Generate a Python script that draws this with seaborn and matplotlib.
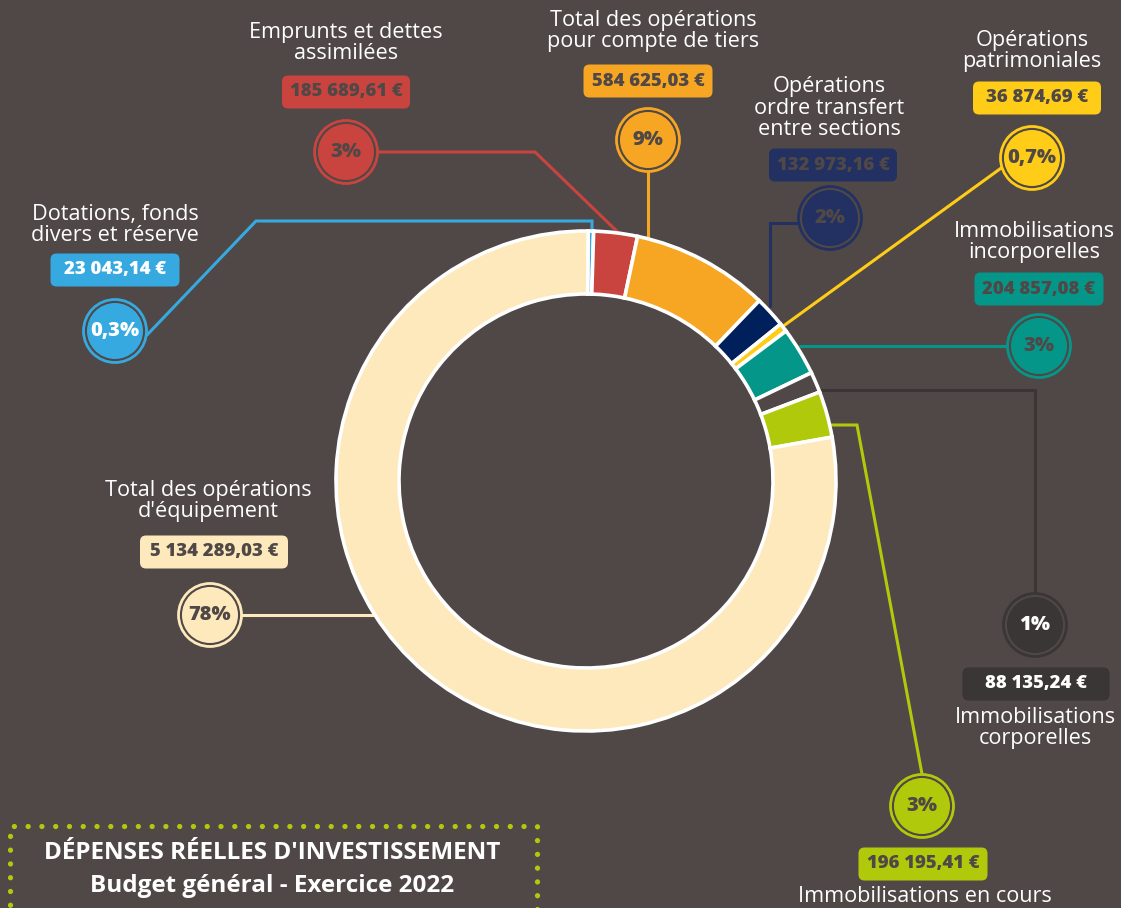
import numpy as np
import matplotlib
matplotlib.use("Agg")
import matplotlib.pyplot as plt
import seaborn as sns
from matplotlib.patches import Circle, FancyBboxPatch, Rectangle

# --- data -------------------------------------------------------------
categories = [
    "Dotations, fonds\ndivers et réserve",
    "Emprunts et dettes\nassimilées",
    "Total des opérations\npour compte de tiers",
    "Opérations\nordre transfert\nentre sections",
    "Opérations\npatrimoniales",
    "Immobilisations\nincorporelles",
    "Immobilisations\ncorporelles",
    "Immobilisations en cours",
    "Total des opérations\nd'équipement",
]
amounts = [23043.14, 185689.61, 584625.03, 132973.16, 36874.69,
           204857.08, 88135.24, 196195.41, 5134289.03]
amount_labels = ["23 043,14 €", "185 689,61 €", "584 625,03 €", "132 973,16 €",
                 "36 874,69 €", "204 857,08 €", "88 135,24 €", "196 195,41 €",
                 "5 134 289,03 €"]
pct_labels = ["0,3%", "3%", "9%", "2%", "0,7%", "3%", "1%", "3%", "78%"]

BG = "#4f4846"
slice_colors = ["#36a9e1", "#c9443e", "#f6a623", "#00205b", "#ffcc18",
                "#05968a", BG, "#b1c90b", "#fee9bd"]
badge_colors = ["#36a9e1", "#c9443e", "#f6a623", "#233162", "#ffcc18",
                "#05968a", "#3a3635", "#b1c90b", "#fee9bd"]
badge_text = ["white", BG, BG, BG, BG, BG, "white", BG, BG]

sns.set_theme(style="white")
plt.rcParams["font.family"] = ["Open Sans", "DejaVu Sans"]

W, H = 1121, 908
fig = plt.figure(figsize=(W / 100, H / 100), dpi=100, facecolor=BG)
ax = fig.add_axes([0, 0, 1, 1])
ax.set_facecolor(BG)


def Y(y):
    return H - y


cx, cy, R, ring = 586, 481, 250, 63
start = 89.5
wedges, _ = ax.pie(amounts, colors=slice_colors, startangle=start,
                   counterclock=False, radius=R, center=(cx, Y(cy)),
                   wedgeprops=dict(width=ring, edgecolor="white", linewidth=2.6))
ax.set_xlim(0, W)
ax.set_ylim(0, H)
ax.set_aspect("equal")
ax.axis("off")

# callout layout (pixel coords): name centre, box (x, y, width), badge centre
layout = [
    dict(name=(115, 225), box=(115, 270, 129), badge=(115, 331)),
    dict(name=(346, 43), box=(346, 92, 128), badge=(346, 152)),
    dict(name=(653, 31), box=(648, 81, 129), badge=(648, 140)),
    dict(name=(829, 108), box=(833, 165, 128), badge=(830, 218)),
    dict(name=(1032, 51), box=(1037, 98, 128), badge=(1032, 158)),
    dict(name=(1034, 242), box=(1039, 289, 129), badge=(1039, 346)),
    dict(name=(1035, 728), box=(1036, 684, 147), badge=(1035, 625)),
    dict(name=(925, 897), box=(923, 864, 129), badge=(922, 806)),
    dict(name=(208, 501), box=(214, 552, 148), badge=(210, 615)),
]

# leader lines: from badge edge through elbows to the ring
paths = [
    [(147, 335), (256, 221), (592, 221), (592, 234)],
    [(378, 152), (535, 152), (626, 240)],
    [(648, 172), (648, 240)],
    [(798, 223), (770, 223), (770, 306)],
    [(1004, 166), (782, 327)],
    [(1007, 346), (800, 346)],
    [(1035, 593), (1035, 390), (815, 390)],
    [(922, 774), (857, 425), (828, 425)],
    [(242, 615), (378, 615)],
]

for i, pts in enumerate(paths):
    xs = [p[0] for p in pts]
    ys = [Y(p[1]) for p in pts]
    ax.plot(xs, ys, color=badge_colors[i], lw=2.2, zorder=1,
            solid_joinstyle="miter")

for w in wedges:
    w.set_zorder(2)

for i, lay in enumerate(layout):
    nx, ny = lay["name"]
    ax.text(nx, Y(ny), categories[i], ha="center", va="center", color="white",
            fontsize=15.6, linespacing=1.02, zorder=5)
    bx, by, bw = lay["box"]
    bh = 33
    ax.add_patch(FancyBboxPatch((bx - bw / 2, Y(by) - bh / 2), bw, bh,
                                boxstyle="round,pad=0,rounding_size=6",
                                fc=badge_colors[i], ec="none", zorder=4))
    ax.text(bx, Y(by), amount_labels[i], ha="center", va="center",
            color=badge_text[i], fontsize=13.3, fontweight=800, zorder=5)
    px, py = lay["badge"]
    ax.add_patch(Circle((px, Y(py)), 31.5, fc=BG, ec=badge_colors[i], lw=2,
                        zorder=4))
    ax.add_patch(Circle((px, Y(py)), 28, fc=badge_colors[i], ec="none",
                        zorder=4))
    ax.text(px, Y(py), pct_labels[i], ha="center", va="center",
            color=badge_text[i], fontsize=14.5, fontweight=800, zorder=5)

# title box with dotted border
ax.add_patch(Rectangle((10, Y(912)), 527, 912 - 826, fill=False,
                       ec="#b1c90b", lw=3.8, ls=(0, (0.01, 2.6)),
                       capstyle="round", zorder=4))
ax.text(272, Y(853), "DÉPENSES RÉELLES D'INVESTISSEMENT", ha="center",
        va="center", color="white", fontsize=17.5, fontweight="bold")
ax.text(272, Y(886), "Budget général - Exercice 2022", ha="center",
        va="center", color="white", fontsize=17.5, fontweight="bold")

fig.savefig("out.png", dpi=100, facecolor=BG)
